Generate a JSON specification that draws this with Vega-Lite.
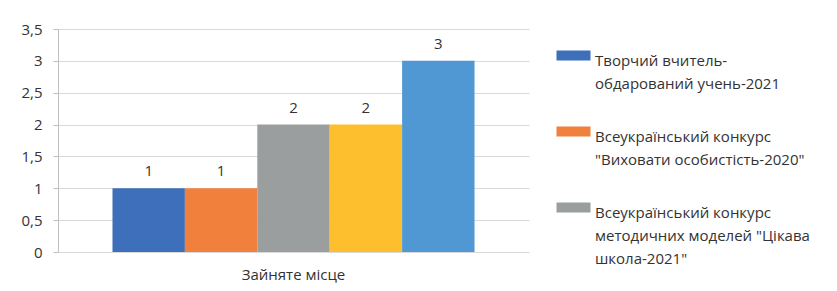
{
  "$schema": "https://vega.github.io/schema/vega-lite/v6.json",
  "width": 471,
  "height": 223,
  "autosize": "none",
  "padding": {"left": 58, "top": 29, "right": 308, "bottom": 39},
  "background": "white",
  "data": {"values": [
    {"category": "Зайняте місце", "series": "Творчий вчитель-обдарований учень-2021", "value": 1, "order": 1},
    {"category": "Зайняте місце", "series": "Всеукраїнський конкурс \"Виховати особистість-2020\"", "value": 1, "order": 2},
    {"category": "Зайняте місце", "series": "Всеукраїнський конкурс методичних моделей \"Цікава школа-2021\"", "value": 2, "order": 3},
    {"category": "Зайняте місце", "series": "Серія 4", "value": 2, "order": 4},
    {"category": "Зайняте місце", "series": "Серія 5", "value": 3, "order": 5}
  ]},
  "encoding": {
    "x": {"field": "category", "type": "nominal", "scale": {"paddingInner": 0, "paddingOuter": 0.1505},
      "axis": {"title": null, "labelAngle": 0, "ticks": false, "domain": false, "labelFont": "Open Sans", "labelFontSize": 15, "labelColor": "#333333", "labelPadding": 15}},
    "xOffset": {"field": "series", "type": "nominal", "sort": {"field": "order"}, "scale": {"paddingInner": 0, "paddingOuter": 0}},
    "y": {"field": "value", "type": "quantitative", "scale": {"domain": [0, 3.5], "nice": false},
      "axis": {"title": null, "values": [0, 0.5, 1, 1.5, 2, 2.5, 3, 3.5], "labelExpr": "replace(format(datum.value, '~g'), '.', ',')",
        "labelFont": "Open Sans", "labelFontSize": 15, "labelColor": "#333333", "labelPadding": 11,
        "tickColor": "#BFBFBF", "tickSize": 5, "domainColor": "#BFBFBF", "gridColor": "#D9D9D9"}}
  },
  "layer": [
    {
      "mark": {"type": "bar"},
      "encoding": {
        "color": {"field": "series", "type": "nominal",
          "scale": {
            "domain": ["Творчий вчитель-обдарований учень-2021", "Всеукраїнський конкурс \"Виховати особистість-2020\"", "Всеукраїнський конкурс методичних моделей \"Цікава школа-2021\"", "Серія 4", "Серія 5"],
            "range": ["#3E6FBA", "#F0803C", "#9B9E9E", "#FDBF2D", "#5098D3"]
          },
          "legend": {
            "orient": "none", "legendX": 496, "legendY": 19, "title": null, "padding": 0,
            "values": ["Творчий вчитель-обдарований учень-2021", "Всеукраїнський конкурс \"Виховати особистість-2020\"", "Всеукраїнський конкурс методичних моделей \"Цікава школа-2021\""],
            "symbolType": "M-1,-1H5.8V1H-1Z", "symbolSize": 100, "symbolStrokeWidth": 0,
            "labelOffset": 26, "labelFont": "Open Sans", "labelFontSize": 15, "labelColor": "#333333", "labelLimit": 400,
            "labelBaseline": "top", "rowPadding": 32,
            "labelExpr": "datum.label == 'Творчий вчитель-обдарований учень-2021' ? ['Творчий вчитель-', 'обдарований учень-2021'] : (indexof(datum.label, 'Виховати') >= 0 ? ['Всеукраїнський конкурс', '\"Виховати особистість-2020\"'] : ['Всеукраїнський конкурс', 'методичних моделей \"Цікава', 'школа-2021\"'])",
            "encode": {"labels": {"update": {"lineHeight": {"value": 23}, "dy": {"value": -2}}}}
          }
        }
      }
    },
    {
      "mark": {"type": "text", "dy": -17, "font": "Open Sans", "fontSize": 15, "color": "#333333"},
      "encoding": {"text": {"field": "value", "type": "quantitative"}}
    }
  ],
  "config": {"view": {"stroke": null}}
}
